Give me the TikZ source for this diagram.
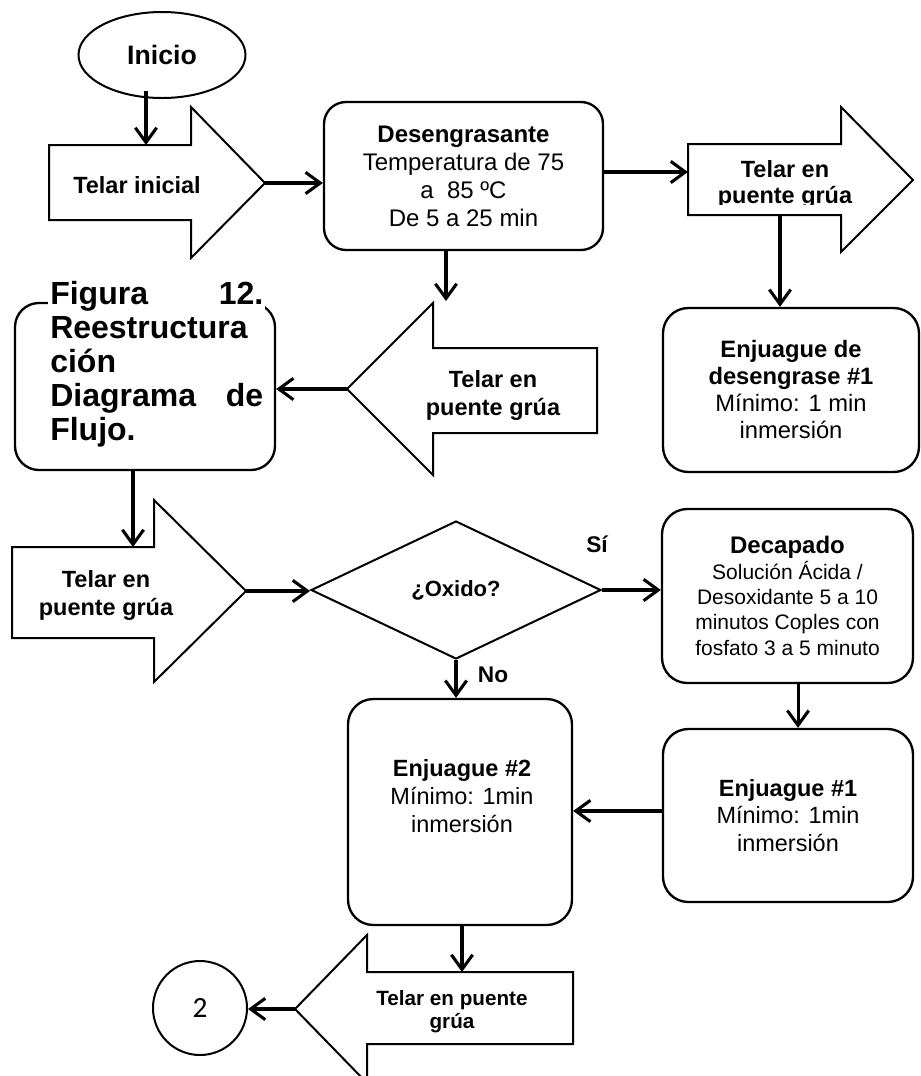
\documentclass[tikz,border=0pt]{standalone}
\usepackage{fontspec}
\setmainfont{Liberation Sans}
\newfontfamily\connfont{Carlito}
\usetikzlibrary{arrows.meta,shapes.geometric}
\begin{document}
\begin{tikzpicture}[x=0.75pt,y=-0.75pt,
  flow/.style={line width=2.3pt,-{Straight Barb[length=11pt,width=16pt]}},
  box/.style={draw,line width=1.75pt,rounded corners=19pt,inner sep=0pt,align=center},
  blk/.style={draw,line width=1.5pt,line join=miter},
  lbl/.style={inner sep=0pt,align=center,font=\bfseries\fontsize{17.6}{21}\selectfont},
  tag/.style={inner sep=0pt,font=\bfseries\fontsize{17}{20}\selectfont}]
\clip (0,0) rectangle (921,1076);

% start
\node[draw,ellipse,line width=1.5pt,minimum width=167*0.75pt,minimum height=86*0.75pt,
      inner sep=0pt,font=\bfseries\fontsize{20}{24}\selectfont] (inicio) at (162,55) {Inicio};

% block arrow: Telar inicial
\draw[blk] (49,145) -- (191,145) -- (191,107) -- (265,183) -- (191,258) -- (191,220) -- (49,220) -- cycle;
\coordinate (a1in) at (146,145);
\coordinate (a1tip) at (265,183);
\node[lbl] (a1) at (137,185) {Telar inicial};

% degreasing
\node[box,rounded corners=16.5pt,minimum width=279*0.75pt,minimum height=148*0.75pt,
      font=\fontsize{18}{21}\selectfont] (des) at (463.5,176)
      {\textbf{Desengrasante}\\Temperatura de 75\\a\ \ 85 ºC\\De 5 a 25 min};

% block arrow: crane (top right), label cut at its text frame
\draw[blk] (688,144) -- (841,144) -- (841,107) -- (913,180) -- (841,252) -- (841,215) -- (688,215) -- cycle;
\coordinate (a2in) at (688,172);
\coordinate (a2out) at (780,215);
\begin{scope}
  \clip (690,146) rectangle (905,204);
  \node[lbl,font=\bfseries\fontsize{17.6}{19.5}\selectfont] (a2) at (785,184) {Telar en\\puente grúa};
\end{scope}

% first rinse after degreasing
\node[box,minimum width=256*0.75pt,minimum height=164*0.75pt,
      font=\fontsize{17.8}{20.25}\selectfont] (ed1) at (791,390)
      {\textbf{Enjuague de}\\\textbf{desengrase \#1}\\Mínimo: 1 min\\inmersión};

% block arrow: crane (pointing left)
\draw[blk] (597,348) -- (433,348) -- (433,303) -- (347,389) -- (433,475) -- (433,433) -- (597,433) -- cycle;
\coordinate (a3in) at (446,301);
\coordinate (a3tip) at (347,389);
\node[lbl] (a3) at (493,395) {Telar en\\puente grúa};

% caption box
\node[box,rounded corners=18pt,minimum width=260*0.75pt,minimum height=167*0.75pt] (fig) at (145,386.5) {};
\node[fill=white,inner xsep=1.5pt,inner ysep=0pt,text width=213*0.75pt,align=left,anchor=north west,
      font=\bfseries\fontsize{24}{25.5}\selectfont] (figt) at (48,281)
      {Figura\hfill 12.\\Reestructura\\ción\\Diagrama\hfill de\\Flujo.};

% block arrow: crane (middle left)
\draw[blk] (12,547) -- (154,547) -- (154,500) -- (246,591) -- (154,682) -- (154,638) -- (12,638) -- cycle;
\coordinate (a4in) at (133,547);
\coordinate (a4tip) at (246,591);
\node[lbl] (a4) at (106,595) {Telar en\\puente grúa};

% decision
\node[draw,diamond,line width=1.5pt,minimum width=290*0.75pt,minimum height=138*0.75pt,inner sep=0pt,
      font=\bfseries\fontsize{16.5}{19}\selectfont] (oxido) at (456,590) {¿Oxido?};
\node[tag] (si) at (597,544) {Sí};
\node[tag] (no) at (493,675) {No};

% pickling
\node[box,minimum width=251*0.75pt,minimum height=174*0.75pt,
      font=\fontsize{15.75}{19}\selectfont] (dec) at (787.5,596)
      {{\bfseries\fontsize{18}{19}\selectfont Decapado}\\Solución Ácida /\\Desoxidante 5 a 10\\minutos Coples con\\fosfato 3 a 5 minuto};

% rinse 1
\node[box,minimum width=250*0.75pt,minimum height=173*0.75pt,
      font=\fontsize{17.6}{20.6}\selectfont] (en1) at (788,815.5)
      {\textbf{Enjuague \#1}\\Mínimo: 1min\\inmersión};

% rinse 2
\node[box,minimum width=224*0.75pt,minimum height=226*0.75pt] (en2) at (460,812) {};
\node[inner sep=0pt,align=center,font=\fontsize{17.6}{21}\selectfont] (en2t) at (462,796)
      {\textbf{Enjuague \#2}\\Mínimo: 1min\\inmersión};

% block arrow: crane (bottom)
\draw[blk] (573,972) -- (367,972) -- (367,935) -- (295,1009) -- (367,1083) -- (367,1044) -- (573,1044) -- cycle;
\coordinate (a5in) at (462,972);
\coordinate (a5tip) at (295,1009);
\node[lbl,font=\bfseries\fontsize{15.5}{17.25}\selectfont] (a5) at (452,1012) {Telar en puente\\grúa};

% off-page connector
\node[draw,circle,line width=1.5pt,minimum size=94*0.75pt,inner sep=0pt,
      font=\connfont\fontsize{22}{24}\selectfont] (c2) at (200,1008) {2};

% connectors
\draw[flow] ([yshift=6pt]inicio.south -| a1in) -- (a1in);
\draw[flow] (a1tip) -- (a1tip -| des.west);
\draw[flow] (des.east |- a2in) -- (a2in);
\draw[flow] (a2out) -- (a2out |- ed1.north);
\draw[flow] (des.south -| a3in) -- (a3in);
\draw[flow] (a3tip) -- (a3tip -| fig.east);
\draw[flow] (fig.south -| a4in) -- (a4in);
\draw[flow] (a4tip) -- (a4tip -| oxido.west);
\draw[flow] (oxido.east) -- (oxido.east -| dec.west);
\draw[flow] ([xshift=7.9pt]dec.south) -- ([xshift=7.9pt]dec.south |- en1.north);
\draw[flow] (oxido.south) -- (oxido.south |- en2.north);
\draw[flow] ([yshift=3.4pt]en1.west) -- ([yshift=3.4pt]en1.west -| en2.east);
\draw[flow] (en2.south -| a5in) -- (a5in);
\draw[flow] (a5tip) -- (a5tip -| c2.east);
\end{tikzpicture}
\end{document}
